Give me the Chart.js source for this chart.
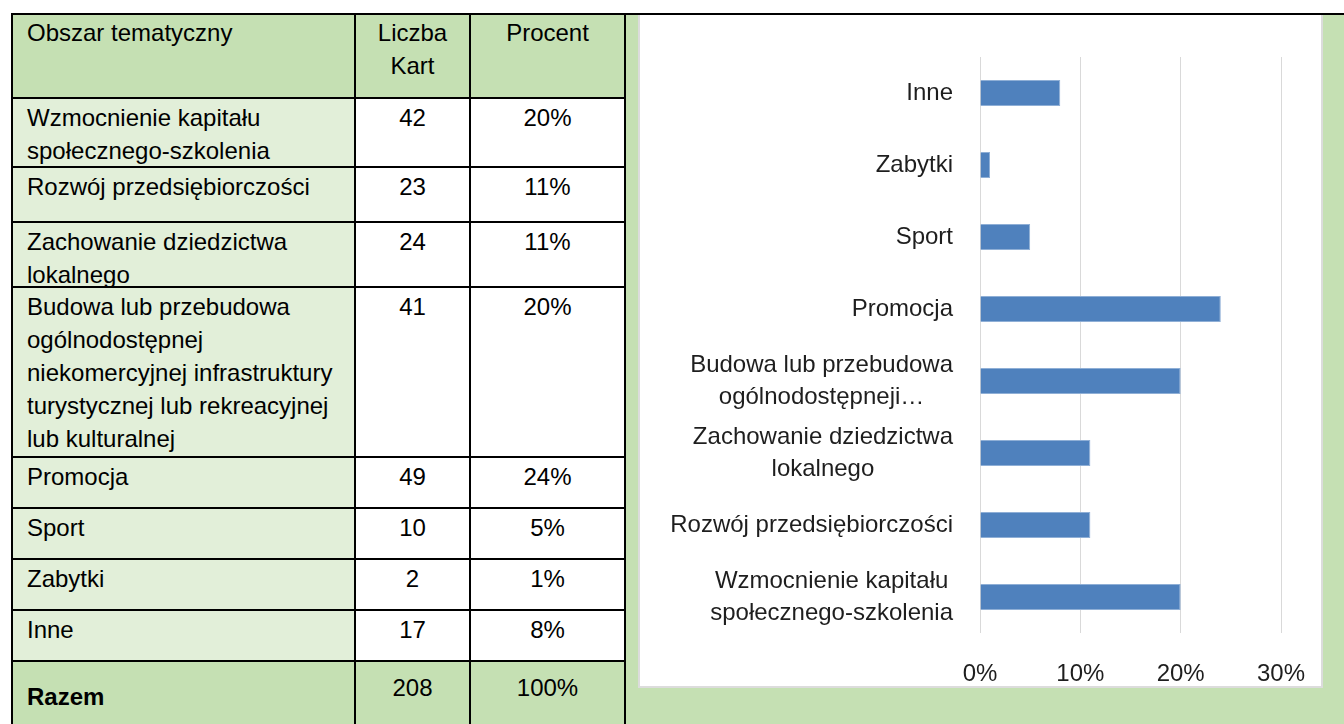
<!DOCTYPE html>
<html>
<head>
<meta charset="utf-8">
<script src="https://cdn.jsdelivr.net/npm/chart.js@4.4.1/dist/chart.umd.min.js"></script>
<style>
  html, body { margin: 0; padding: 0; background: #ffffff; }
  body { width: 1344px; height: 724px; position: relative; overflow: hidden; font-family: "Liberation Sans", Arial, sans-serif; }
  .abs { position: absolute; }
  .txt { position: absolute; font-size: 24px; line-height: 33px; color: #000; white-space: pre; }
  .ln { position: absolute; background: #000; }
</style>
</head>
<body>
<div id="page"></div>
<div id="chartBox" class="abs" style="left:638px; top:15px; width:681px; height:671px; background:#fff; border-left:2px solid #dcdcdc; border-right:2px solid #dcdcdc; border-bottom:2px solid #dcdcdc;">
  <canvas id="c" width="681" height="672" style="position:absolute; left:0; top:1px;"></canvas>
</div>
<script>
// ---- data ----
const headers = ["Obszar tematyczny", "Liczba\nKart", "Procent"];
const tableNames = [
  "Wzmocnienie kapitału\nspołecznego-szkolenia",
  "Rozwój przedsiębiorczości",
  "Zachowanie dziedzictwa\nlokalnego",
  "Budowa lub przebudowa\nogólnodostępnej\nniekomercyjnej infrastruktury\nturystycznej lub rekreacyjnej\nlub kulturalnej",
  "Promocja",
  "Sport",
  "Zabytki",
  "Inne"
];
const counts = ["42", "23", "24", "41", "49", "10", "2", "17"];
const percentLabels = ["20%", "11%", "11%", "20%", "24%", "5%", "1%", "8%"];
const totalLabel = "Razem";
const totalCount = "208";
const totalPercent = "100%";

const chartLabels = [
  ["Wzmocnienie kapitału", "społecznego-szkolenia"],
  ["Rozwój przedsiębiorczości"],
  ["Zachowanie dziedzictwa", "lokalnego"],
  ["Budowa lub przebudowa", "ogólnodostępneji…"],
  ["Promocja"],
  ["Sport"],
  ["Zabytki"],
  ["Inne"]
];
const chartValues = [20, 11, 11, 20, 24, 5, 1, 8];
const xTicks = [0, 10, 20, 30];

// ---- table layout ----
const page = document.getElementById('page');
const colX = [12, 355, 470, 625];
const rowY = [14, 98, 167, 222, 287, 457, 508, 559, 610, 661, 740];
const GREEN = '#C5E0B3', LIGHT = '#E2EFD9';

function box(x, y, w, h, bg) {
  const d = document.createElement('div');
  d.className = 'abs';
  d.style.cssText = `left:${x}px;top:${y}px;width:${w}px;height:${h}px;background:${bg};`;
  page.appendChild(d);
}
function text(str, x, y, w, align, bold) {
  const d = document.createElement('div');
  d.className = 'txt';
  d.textContent = str;
  d.style.left = x + 'px'; d.style.top = y + 'px';
  if (w) { d.style.width = w + 'px'; }
  d.style.textAlign = align || 'left';
  if (bold) d.style.fontWeight = 'bold';
  page.appendChild(d);
}
// right green cell
box(625, 14, 719, 710, GREEN);
// rows
const nRows = rowY.length - 1;
for (let r = 0; r < nRows; r++) {
  const y0 = rowY[r], y1 = rowY[r + 1];
  for (let c = 0; c < 3; c++) {
    let bg;
    if (r === 0 || r === nRows - 1) bg = GREEN;
    else bg = (c === 0) ? LIGHT : '#ffffff';
    box(colX[c], y0, colX[c + 1] - colX[c], y1 - y0, bg);
  }
}
// header text
text(headers[0], 27, rowY[0] + 2, null, 'left');
text(headers[1], colX[1], rowY[0] + 2, colX[2] - colX[1], 'center');
text(headers[2], colX[2], rowY[0] + 2, colX[3] - colX[2], 'center');
// body text
for (let i = 0; i < tableNames.length; i++) {
  const y = rowY[i + 1] + 3;
  text(tableNames[i], 27, y, null, 'left');
  text(counts[i], colX[1], y, colX[2] - colX[1], 'center');
  text(percentLabels[i], colX[2], y, colX[3] - colX[2], 'center');
}
// total row
text(totalLabel, 27, rowY[nRows - 1] + 19, null, 'left', true);
text(totalCount, colX[1], rowY[nRows - 1] + 10, colX[2] - colX[1], 'center');
text(totalPercent, colX[2], rowY[nRows - 1] + 10, colX[3] - colX[2], 'center');
// lines
function hline(x0, x1, y) { const d = document.createElement('div'); d.className = 'ln'; d.style.cssText = `left:${x0 - 1}px;top:${y - 1}px;width:${x1 - x0 + 2}px;height:2px;`; page.appendChild(d); }
function vline(x, y0, y1) { const d = document.createElement('div'); d.className = 'ln'; d.style.cssText = `left:${x - 1}px;top:${y0 - 1}px;width:2px;height:${y1 - y0 + 2}px;`; page.appendChild(d); }
for (let r = 1; r < nRows; r++) hline(colX[0], colX[3], rowY[r]);
hline(colX[0], 1344, rowY[0]);
for (const x of colX) vline(x, rowY[0], 724);

// ---- chart ----
const labelPlugin = {
  id: 'catLabels',
  afterDraw(chart) {
    const ctx = chart.ctx;
    const ys = chart.scales.y;
    const right = chart.chartArea.left - 27;
    ctx.save();
    ctx.font = '24px "Liberation Sans", Arial, sans-serif';
    ctx.fillStyle = '#1e1e1e';
    ctx.textBaseline = 'middle';
    ctx.textAlign = 'center';
    chartLabels.forEach((lines, i) => {
      const yc = ys.getPixelForValue(i);
      let maxW = 0;
      lines.forEach(l => { maxW = Math.max(maxW, ctx.measureText(l).width); });
      const cx = right - maxW / 2;
      const lh = 32;
      lines.forEach((l, k) => {
        ctx.fillText(l, cx, yc + (k - (lines.length - 1) / 2) * lh);
      });
    });
    ctx.restore();
  }
};

new Chart(document.getElementById('c'), {
  type: 'bar',
  data: {
    labels: chartLabels.map(l => l.join(' ')),
    datasets: [{
      data: chartValues,
      backgroundColor: '#4F81BD',
      borderColor: '#8FAFD6',
      borderWidth: 1,
      categoryPercentage: 1,
      barPercentage: 0.36
    }]
  },
  options: {
    indexAxis: 'y',
    responsive: false,
    animation: false,
    devicePixelRatio: 1,
    layout: { padding: { top: 41, right: 40, left: 0, bottom: 0 } },
    plugins: { legend: { display: false }, tooltip: { enabled: false } },
    scales: {
      x: {
        min: xTicks[0], max: xTicks[xTicks.length - 1],
        afterBuildTicks(scale) { scale.ticks = xTicks.map(v => ({ value: v })); },
        afterFit(scale) { scale.height = 55; scale.paddingRight = 0; scale.paddingLeft = 0; },
        grid: { color: '#d9d9d9', lineWidth: 1, drawTicks: false },
        border: { display: false },
        ticks: {
          padding: 27,
          color: '#1e1e1e',
          font: { family: '"Liberation Sans", Arial, sans-serif', size: 24 },
          callback: v => v + '%'
        }
      },
      y: {
        reverse: true,
        afterFit(scale) { scale.width = 340; },
        grid: { display: false, drawTicks: false },
        border: { display: false },
        ticks: { display: false }
      }
    }
  },
  plugins: [labelPlugin]
});
</script>
</body>
</html>
